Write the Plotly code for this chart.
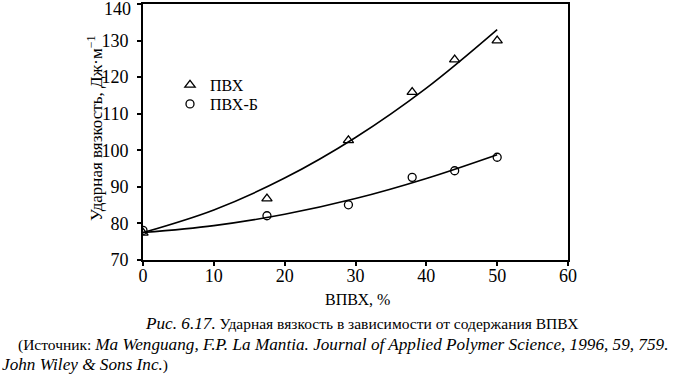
import plotly.graph_objects as go

# measured data points
pvc_x = [0, 17.5, 29, 38, 44, 50]
pvc_y = [77.4, 86.8, 102.7, 115.9, 124.8, 130.0]
pvcb_x = [0, 17.5, 29, 38, 44, 50]
pvcb_y = [78.1, 82.1, 85.1, 92.6, 94.4, 98.1]

# fitted curves
fit_x = [0, 10, 20, 30, 40, 50]
fit_pvc_y = [77.5, 83.7, 92.4, 103.5, 117.0, 133.0]
fit_pvcb_y = [77.5, 79.4, 82.5, 86.8, 92.3, 98.8]

x_ticks = [0, 10, 20, 30, 40, 50, 60]
y_ticks = [70, 80, 90, 100, 110, 120, 130, 140]
y_ticktext = [str(v) for v in y_ticks[:-1]] + [""]  # top label drawn separately (sits lower in the scan)

W, H = 685, 386
L, R, T, B = 143, 117, 4, 126
PW, PH = W - L - R, H - T - B


def px(xp):
    return (xp - L) / PW


def py(yp):
    return (H - B - yp) / PH


FONT = "Liberation Serif, Times New Roman, serif"

fig = go.Figure()
fig.add_trace(go.Scatter(x=fit_x, y=fit_pvc_y, mode="lines", line=dict(color="black", width=1.6, shape="spline"),
                         showlegend=False, hoverinfo="skip"))
fig.add_trace(go.Scatter(x=fit_x, y=fit_pvcb_y, mode="lines", line=dict(color="black", width=1.6, shape="spline"),
                         showlegend=False, hoverinfo="skip"))
fig.add_trace(go.Scatter(x=pvc_x, y=pvc_y, mode="markers", name="ПВХ", legend="legend",
                         marker=dict(symbol="triangle-up-open", size=9, color="black", line=dict(width=1.3))))
fig.add_trace(go.Scatter(x=pvcb_x, y=pvcb_y, mode="markers", name="ПВХ-Б", legend="legend2",
                         marker=dict(symbol="circle-open", size=8, color="black", line=dict(width=1.3))))

axis_common = dict(showline=True, linecolor="black", linewidth=1.9, mirror=True, showgrid=False,
                   zeroline=False, ticks="outside", ticklen=4, tickwidth=1.5, tickcolor="black",
                   automargin=False, ticklabeloverflow="allow",
                   tickfont=dict(family=FONT, size=18, color="black"))
fig.update_xaxes(range=[0, 60], tickvals=x_ticks, ticklabelstandoff=-6, **axis_common)
fig.update_yaxes(range=[70, 140], tickvals=y_ticks, ticktext=y_ticktext, ticklabelstandoff=5, **axis_common)

IT = "<i><span style='font-size:17.2px'>{}</span></i>"
ann = [
    dict(text="Ударная вязкость, Дж·м<sup>−1</sup>", x=px(95), y=py(129), textangle=-90,
         font=dict(size=17)),
    dict(text="ВПВХ, %", x=px(357.5), y=py(299), font=dict(size=16)),
    dict(text=IT.format("Рис. 6.17.") + " Ударная вязкость в зависимости от содержания ВПВХ", x=px(143),
         y=py(323), xanchor="left", font=dict(size=15.5)),
    dict(text="(Источник: " + IT.format("Ma Wenguang, F.P. La Mantia. Journal of Applied Polymer Science, 1996, 59, 759."),
         x=px(16), y=py(344), xanchor="left", font=dict(size=15.5)),
    dict(text=IT.format("John Wiley &amp; Sons Inc.") + ")", x=px(0), y=py(364), xanchor="left",
         font=dict(size=15.5)),
]
for a in ann:
    a.setdefault("xanchor", "center")
    a.update(xref="paper", yref="paper", yanchor="middle", showarrow=False)
    a["font"] = dict(family=FONT, color="black", **a["font"])

# top y tick label, placed on the axis scale at its value, nudged down as in the scan
ann.append(dict(text=str(y_ticks[-1]), xref="paper", x=px(132.5), xanchor="right",
                yref="y", y=y_ticks[-1], yanchor="middle", yshift=-5, showarrow=False,
                font=dict(family=FONT, size=18, color="black")))

leg = dict(xanchor="left", yanchor="middle", bgcolor="rgba(0,0,0,0)",
           font=dict(family=FONT, size=16, color="black"), itemwidth=30)

fig.update_layout(
    width=W, height=H,
    margin=dict(l=L, r=R, t=T, b=B, pad=0, autoexpand=False),
    paper_bgcolor="white", plot_bgcolor="white",
    annotations=ann,
    legend=dict(x=px(170), y=py(85), **leg),
    legend2=dict(x=px(170), y=py(104), **leg),
    font=dict(family=FONT, color="black"),
)

fig.write_html("out.html", config={"displayModeBar": False},
               post_script="document.body.style.margin='0px';")
